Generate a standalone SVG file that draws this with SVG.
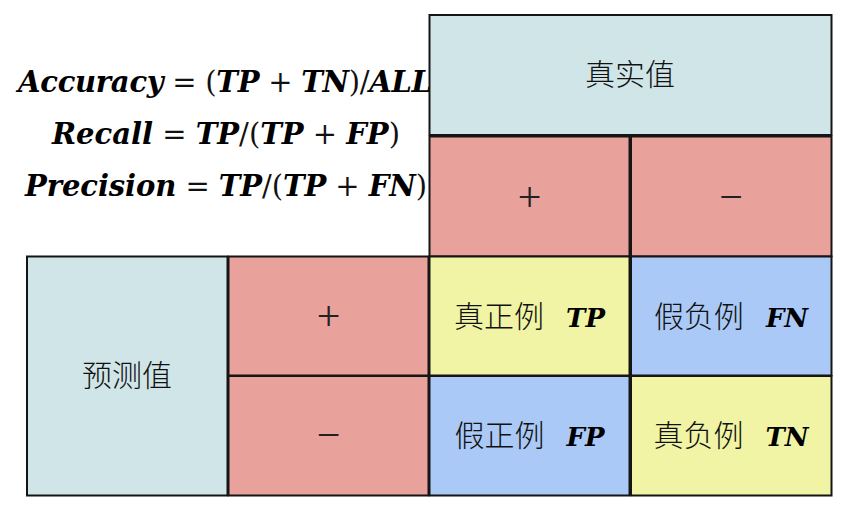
<svg xmlns="http://www.w3.org/2000/svg" width="847" height="510" viewBox="0 0 847 510">
<style>
rect{stroke:#151515;stroke-width:2}
.hd{fill:#d0e5e8}
.pk{fill:#e9a19b}
.ye{fill:#f0f4a4}
.bl{fill:#aac9f6}
.cj{font-family:"Noto Sans CJK SC","Noto Sans CJK JP",sans-serif;font-size:30px;fill:#111;font-weight:300}
.m{font-family:"DejaVu Serif",serif;font-weight:bold;font-style:italic;fill:#000}
.op{font-family:"DejaVu Serif",serif;font-weight:normal;font-style:normal;fill:#111}
.sg{font-family:"Liberation Serif",serif;font-size:42px;fill:#222}
</style>
<rect width="847" height="510" fill="#fff" style="stroke:none"/>
<g id="formulas">
<text x="18" y="92" font-size="29" textLength="414" lengthAdjust="spacing"><tspan class="m">Accuracy</tspan><tspan class="op"> = (</tspan><tspan class="m">TP</tspan><tspan class="op"> + </tspan><tspan class="m">TN</tspan><tspan class="op">)/</tspan><tspan class="m">ALL</tspan></text>
<text x="52" y="144" font-size="29" textLength="348" lengthAdjust="spacing"><tspan class="m">Recall</tspan><tspan class="op"> = </tspan><tspan class="m">TP</tspan><tspan class="op">/(</tspan><tspan class="m">TP</tspan><tspan class="op"> + </tspan><tspan class="m">FP</tspan><tspan class="op">)</tspan></text>
<text x="25" y="196" font-size="29" textLength="402" lengthAdjust="spacing"><tspan class="m">Precision</tspan><tspan class="op"> = </tspan><tspan class="m">TP</tspan><tspan class="op">/(</tspan><tspan class="m">TP</tspan><tspan class="op"> + </tspan><tspan class="m">FN</tspan><tspan class="op">)</tspan></text>
</g>
<g id="actual">
<rect class="hd" x="429.5" y="15" width="402" height="120"/>
<text class="cj" x="630" y="85" text-anchor="middle">真实值</text>
</g>
<g id="actual-pos">
<rect class="pk" x="429.5" y="136.5" width="200" height="120"/>
<text class="sg" x="529.5" y="211" text-anchor="middle">+</text>
</g>
<g id="actual-neg">
<rect class="pk" x="631" y="136.5" width="200.5" height="120"/>
<text class="sg" x="731" y="211" text-anchor="middle">−</text>
</g>
<g id="predicted">
<rect class="hd" x="27" y="256.5" width="200.5" height="239"/>
<text class="cj" x="127" y="386" text-anchor="middle">预测值</text>
</g>
<g id="pred-pos">
<rect class="pk" x="228.5" y="256.5" width="200" height="119"/>
<text class="sg" x="328.5" y="330" text-anchor="middle">+</text>
</g>
<g id="pred-neg">
<rect class="pk" x="228.5" y="376" width="200" height="119.5"/>
<text class="sg" x="328.5" y="449" text-anchor="middle">−</text>
</g>
<g id="tp">
<rect class="ye" x="429.5" y="256.5" width="200" height="119"/>
<text x="529.5" y="327" text-anchor="middle"><tspan class="cj">真正例</tspan><tspan class="m" font-size="26" dx="22">TP</tspan></text>
</g>
<g id="fn">
<rect class="bl" x="631" y="256.5" width="200.5" height="119"/>
<text x="731" y="327" text-anchor="middle"><tspan class="cj">假负例</tspan><tspan class="m" font-size="26" dx="22">FN</tspan></text>
</g>
<g id="fp">
<rect class="bl" x="429.5" y="376" width="200" height="119.5"/>
<text x="529.5" y="446" text-anchor="middle"><tspan class="cj">假正例</tspan><tspan class="m" font-size="26" dx="22">FP</tspan></text>
</g>
<g id="tn">
<rect class="ye" x="631" y="376" width="200.5" height="119.5"/>
<text x="731" y="446" text-anchor="middle"><tspan class="cj">真负例</tspan><tspan class="m" font-size="26" dx="22">TN</tspan></text>
</g>
<g id="connectors"/>
</svg>
